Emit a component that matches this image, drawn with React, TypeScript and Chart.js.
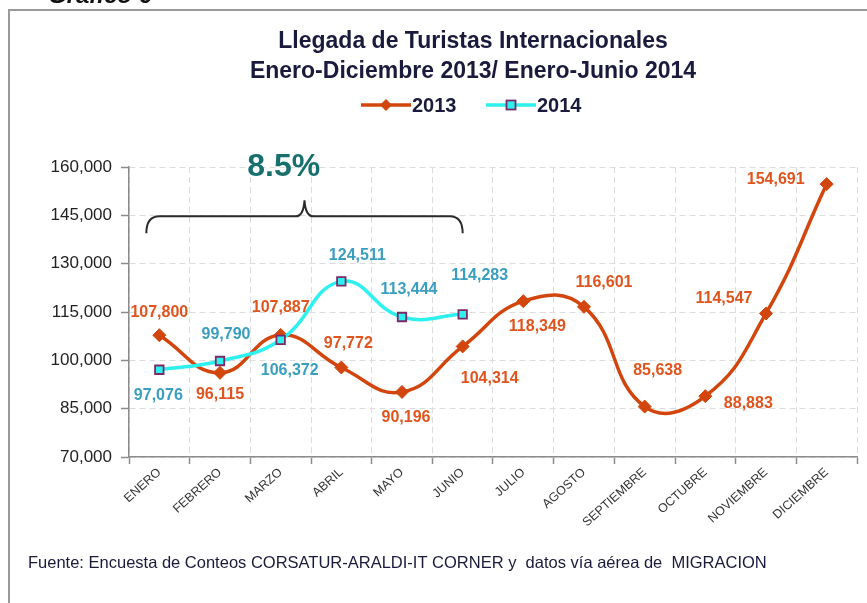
import React, { useEffect, useRef } from "react";
import { Chart, registerables } from "chart.js";

Chart.register(...registerables);

// ---------- data ----------
const months = [
  "ENERO", "FEBRERO", "MARZO", "ABRIL", "MAYO", "JUNIO",
  "JULIO", "AGOSTO", "SEPTIEMBRE", "OCTUBRE", "NOVIEMBRE", "DICIEMBRE",
];
const values2013 = [107800, 96115, 107887, 97772, 90196, 104314, 118349, 116601, 85638, 88883, 114547, 154691];
const values2014 = [97076, 99790, 106372, 124511, 113444, 114283, null, null, null, null, null, null];
const seriesNames = ["2013", "2014"];
const yMin = 70000;
const yMax = 160000;
const yStep = 15000;
const titleLines = ["Llegada de Turistas Internacionales", "Enero-Diciembre 2013/ Enero-Junio 2014"];
const growthText = "8.5%";
const chartHeading = "Gráfico 6";
const sourceText = "Fuente: Encuesta de Conteos CORSATUR-ARALDI-IT CORNER y  datos vía aérea de  MIGRACION";

// ---------- styles ----------
const FONT = "'Liberation Sans', Arial, sans-serif";
const C2013 = "#D2460E";
const C2013_LABEL = "#E0541E";
const C2014 = "#2EF0EE";
const C2014_BORDER = "#7A2A66";
const C2014_LABEL = "#3A9EC0";
const TEXT_DARK = "#1a1a3c";
// label offsets (dx, dy) from each point, text centre
const labelOffsets2013 = [
  [0, -23], [0, 22], [0, -27], [7, -24], [4, 26], [27, 32],
  [14, 25], [20, -24], [13, -36], [43, 7], [-42, -15], [-51, -5],
];
const labelOffsets2014 = [
  [-1, 26], [6, -26], [9, 31], [16, -26], [7, -27], [17, -39],
];

const fmt = (v: number) => v.toLocaleString("en-US");

const decorPlugin = {
  id: "decor",
  beforeDraw(chart: any) {
    const ctx = chart.ctx;
    ctx.save();
    ctx.fillStyle = "#ffffff";
    ctx.fillRect(0, 0, chart.width, chart.height);
    ctx.strokeStyle = "#9a9a9a";
    ctx.lineWidth = 2;
    ctx.strokeRect(9, 10, chart.width + 20, chart.height + 20);
    // heading (cut off at top)
    ctx.fillStyle = "#111";
    ctx.font = `italic bold 24px ${FONT}`;
    ctx.textAlign = "left";
    ctx.textBaseline = "alphabetic";
    ctx.fillText(chartHeading, 48, 3);
    // title
    ctx.fillStyle = TEXT_DARK;
    ctx.font = `bold 23px ${FONT}`;
    ctx.textAlign = "center";
    ctx.fillText(titleLines[0], 473, 48);
    ctx.fillText(titleLines[1], 473, 78);
    // legend
    const ly = 105;
    const drawItem = (x0: number, idx: number) => {
      ctx.save();
      ctx.lineWidth = 3.5;
      ctx.strokeStyle = idx === 0 ? C2013 : C2014;
      ctx.beginPath();
      ctx.moveTo(x0, ly);
      ctx.lineTo(x0 + 50, ly);
      ctx.stroke();
      const mx = x0 + 25;
      if (idx === 0) {
        ctx.fillStyle = C2013;
        ctx.beginPath();
        ctx.moveTo(mx, ly - 6);
        ctx.lineTo(mx + 6, ly);
        ctx.lineTo(mx, ly + 6);
        ctx.lineTo(mx - 6, ly);
        ctx.closePath();
        ctx.fill();
      } else {
        ctx.fillStyle = C2014;
        ctx.strokeStyle = C2014_BORDER;
        ctx.lineWidth = 1.8;
        ctx.fillRect(mx - 4.5, ly - 4.5, 9, 9);
        ctx.strokeRect(mx - 4.5, ly - 4.5, 9, 9);
      }
      ctx.fillStyle = TEXT_DARK;
      ctx.font = `bold 20px ${FONT}`;
      ctx.textAlign = "left";
      ctx.textBaseline = "middle";
      ctx.fillText(seriesNames[idx], x0 + 51, ly + 1);
      ctx.restore();
    };
    drawItem(361, 0);
    drawItem(486, 1);
    ctx.restore();
  },
  afterDraw(chart: any) {
    const ctx = chart.ctx;
    const xs = chart.scales.x;
    const ys = chart.scales.y;
    ctx.save();
    // brace over Enero-Junio
    const xL = xs.getPixelForValue(0) - 13;
    const xR = xs.getPixelForValue(5) + 0;
    const xM = (xL + xR) / 2;
    const yLine = ys.getPixelForValue(145000) + 1;
    const yB = yLine + 17;
    const yTip = yLine - 16;
    ctx.strokeStyle = "#2a2a2a";
    ctx.lineWidth = 2;
    ctx.beginPath();
    ctx.moveTo(xL, yB);
    ctx.quadraticCurveTo(xL, yLine, xL + 13, yLine);
    ctx.lineTo(xM - 9, yLine);
    ctx.quadraticCurveTo(xM - 1, yLine, xM, yTip);
    ctx.quadraticCurveTo(xM + 1, yLine, xM + 9, yLine);
    ctx.lineTo(xR - 13, yLine);
    ctx.quadraticCurveTo(xR, yLine, xR, yB);
    ctx.stroke();
    // growth text
    ctx.fillStyle = "#17706E";
    ctx.font = `bold 32px ${FONT}`;
    ctx.textAlign = "center";
    ctx.textBaseline = "alphabetic";
    ctx.fillText(growthText, xs.getPixelForValue(2.05), ys.getPixelForValue(160000) + 9);
    // source
    ctx.fillStyle = TEXT_DARK;
    ctx.font = `16.5px ${FONT}`;
    ctx.textAlign = "left";
    ctx.fillText(sourceText, 28, 568);
    ctx.restore();
  },
  afterDatasetsDraw(chart: any) {
    const ctx = chart.ctx;
    ctx.save();
    ctx.font = `bold 16px ${FONT}`;
    ctx.textAlign = "center";
    ctx.textBaseline = "middle";
    chart.data.datasets.forEach((ds: any, di: number) => {
      const meta = chart.getDatasetMeta(di);
      const is2013 = ds.label === seriesNames[0];
      const offs = is2013 ? labelOffsets2013 : labelOffsets2014;
      ctx.fillStyle = is2013 ? C2013_LABEL : C2014_LABEL;
      ds.data.forEach((v: number | null, i: number) => {
        if (v == null) return;
        const el = meta.data[i];
        const o = offs[i] || [0, -20];
        ctx.fillText(fmt(v), el.x + o[0], el.y + o[1]);
      });
    });
    ctx.restore();
  },
};

export default function App() {
  const ref = useRef<HTMLCanvasElement | null>(null);
  useEffect(() => {
    if (!ref.current) return;
    const chart = new Chart(ref.current, {
      type: "line",
      data: {
        labels: months,
        datasets: [
          {
            label: seriesNames[1],
            data: values2014,
            order: 0,
            borderColor: C2014,
            borderWidth: 3.5,
            tension: 0.45,
            pointStyle: "rect",
            pointRadius: 6,
            pointBackgroundColor: C2014,
            pointBorderColor: C2014_BORDER,
            pointBorderWidth: 1.8,
            fill: false,
          },
          {
            label: seriesNames[0],
            data: values2013,
            order: 1,
            borderColor: C2013,
            borderWidth: 3.5,
            tension: 0.45,
            pointStyle: "rectRot",
            pointRadius: 6.5,
            pointBackgroundColor: C2013,
            pointBorderColor: C2013,
            pointBorderWidth: 1,
            fill: false,
          },
        ],
      },
      options: {
        responsive: false,
        animation: false,
        devicePixelRatio: 1,
        layout: { padding: { top: 167, right: 10, left: 0, bottom: 0 } },
        plugins: {
          legend: { display: false },
          title: { display: false },
          tooltip: { enabled: false },
        },
        scales: {
          x: {
            offset: true,
            grid: {
              offset: true,
              color: "#dcdcdc",
              lineWidth: 1,
              tickLength: 7,
              tickColor: "#8c8c8c",
              tickWidth: 1.5,
            },
            border: { color: "#8c8c8c", width: 1.5, dash: [6, 4] },
            ticks: {
              color: "#333",
              font: { family: FONT, size: 12.5 },
              minRotation: 42,
              maxRotation: 42,
              autoSkip: false,
              padding: 1,
            },
            afterFit: (s: any) => {
              s.height = 146;
            },
          },
          y: {
            min: yMin,
            max: yMax,
            grid: {
              color: "#dcdcdc",
              lineWidth: 1,
              tickLength: 8,
              tickColor: "#8c8c8c",
              tickWidth: 1.5,
            },
            border: { color: "#8c8c8c", width: 1.5, dash: [6, 4] },
            ticks: {
              stepSize: yStep,
              color: "#222",
              padding: 9,
              font: { family: FONT, size: 17 },
              callback: (v: any) => fmt(Number(v)),
            },
            afterFit: (s: any) => {
              s.width = 129;
            },
          },
        },
      },
      plugins: [decorPlugin],
    });
    return () => chart.destroy();
  }, []);
  return (
    <div style={{ position: "absolute", left: 0, top: 0, width: 867, height: 603 }}>
      <canvas ref={ref} width={867} height={603} style={{ display: "block" }} />
    </div>
  );
}
